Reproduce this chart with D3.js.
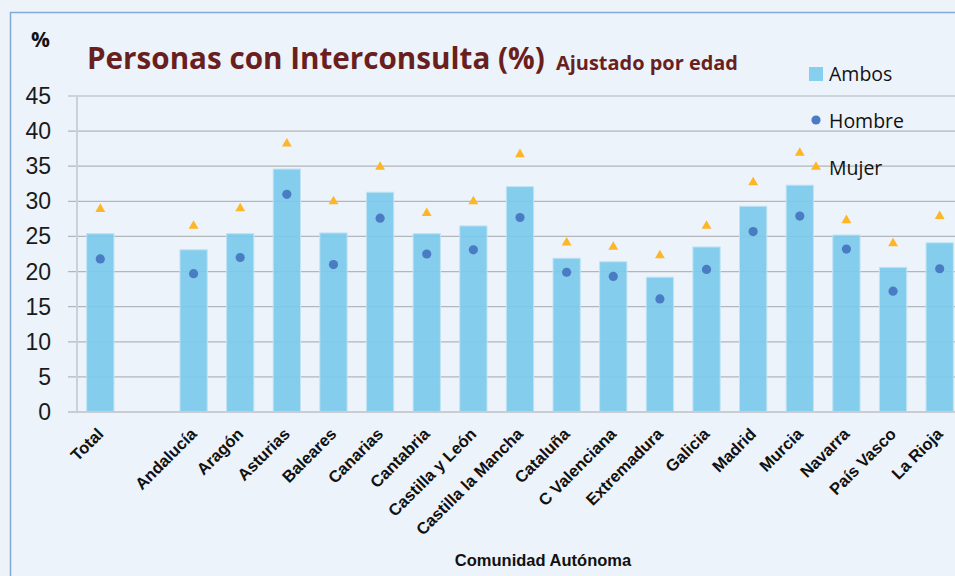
<!DOCTYPE html>
<html>
<head>
<meta charset="utf-8">
<script src="https://cdn.jsdelivr.net/npm/d3@7"></script>
<style>
  body { margin: 0; background: #edf3f9; }
  svg { display: block; }
</style>
</head>
<body>
<div id="chart"></div>
<script>
// Data
var regions = ["Total", "", "Andalucía", "Aragón", "Asturias", "Baleares", "Canarias", "Cantabria",
    "Castilla y León", "Castilla la Mancha", "Cataluña", "C Valenciana", "Extremadura", "Galicia",
    "Madrid", "Murcia", "Navarra", "País Vasco", "La Rioja"];
var ambos  = [25.4, null, 23.1, 25.4, 34.6, 25.5, 31.3, 25.4, 26.5, 32.1, 21.9, 21.4, 19.2, 23.5, 29.3, 32.3, 25.2, 20.6, 24.1];
var hombre = [21.8, null, 19.7, 22.0, 31.0, 21.0, 27.6, 22.5, 23.1, 27.7, 19.9, 19.3, 16.1, 20.3, 25.7, 27.9, 23.2, 17.2, 20.4];
var mujer  = [28.9, null, 26.5, 29.0, 38.2, 30.0, 34.9, 28.3, 30.0, 36.7, 24.1, 23.5, 22.3, 26.5, 32.7, 36.9, 27.3, 24.0, 27.9];
var yTicks = [0, 5, 10, 15, 20, 25, 30, 35, 40, 45];

var svgWidth = 955, svgHeight = 576;
var plot = { left: 77, top: 96, right: 963, bottom: 412 };

var svg = d3.select("#chart").append("svg")
    .attr("width", svgWidth)
    .attr("height", svgHeight);

// chart area frame
svg.append("rect")
    .attr("x", 10.5).attr("y", 12.5)
    .attr("width", 960).attr("height", 580)
    .attr("fill", "#edf3fa")
    .attr("stroke", "#82a9da")
    .attr("stroke-width", 1.5);

var x = d3.scaleBand()
    .domain(regions.map((d, i) => i))
    .range([plot.left, plot.right])
    .paddingInner(0.415)
    .paddingOuter(0.2075);

var y = d3.scaleLinear()
    .domain([0, 45])
    .range([plot.bottom, plot.top]);

// gridlines
svg.append("g")
    .selectAll("line")
    .data(yTicks.filter(d => d > 0))
    .enter().append("line")
    .attr("x1", plot.left - 9).attr("x2", svgWidth)
    .attr("y1", d => y(d)).attr("y2", d => y(d))
    .attr("stroke", "#b3b6ba")
    .attr("stroke-width", 1.2);

// y tick labels
svg.append("g")
    .selectAll("text")
    .data(yTicks)
    .enter().append("text")
    .attr("x", 51)
    .attr("y", d => y(d) + 8)
    .attr("text-anchor", "end")
    .style("font-family", "'Liberation Sans', Arial, sans-serif")
    .style("font-size", "23px")
    .attr("fill", "#1a1a1a")
    .text(d => d);

// bars (Ambos)
svg.append("g")
    .selectAll("rect")
    .data(ambos.map((v, i) => ({ v: v, i: i })).filter(d => d.v != null))
    .enter().append("rect")
    .attr("x", d => x(d.i))
    .attr("y", d => y(d.v))
    .attr("width", x.bandwidth())
    .attr("height", d => y(0) - y(d.v))
    .attr("fill", "#7ccaec")
    .attr("fill-opacity", 0.92)
    .attr("stroke", "#bfe4f5")
    .attr("stroke-width", 1);

// axes lines
svg.append("line")
    .attr("x1", plot.left).attr("x2", plot.left)
    .attr("y1", plot.top).attr("y2", plot.bottom)
    .attr("stroke", "#cdd0d4").attr("stroke-width", 2);
svg.append("line")
    .attr("x1", plot.left - 9).attr("x2", svgWidth)
    .attr("y1", plot.bottom).attr("y2", plot.bottom)
    .attr("stroke", "#c9ccd0").attr("stroke-width", 2);

// Hombre points
svg.append("g")
    .selectAll("circle")
    .data(hombre.map((v, i) => ({ v: v, i: i })).filter(d => d.v != null))
    .enter().append("circle")
    .attr("cx", d => x(d.i) + x.bandwidth() / 2)
    .attr("cy", d => y(d.v))
    .attr("r", 4.6)
    .attr("fill", "#4a7cc3");

// Mujer points
var tri = d3.symbol().type(d3.symbolTriangle).size(42);
svg.append("g")
    .selectAll("path")
    .data(mujer.map((v, i) => ({ v: v, i: i })).filter(d => d.v != null))
    .enter().append("path")
    .attr("d", tri)
    .attr("transform", d => `translate(${x(d.i) + x.bandwidth() / 2},${y(d.v)})`)
    .attr("fill", "#fdb625");

// x labels, rotated
svg.append("g")
    .selectAll("text")
    .data(regions.map((r, i) => ({ r: r, i: i })).filter(d => d.r !== ""))
    .enter().append("text")
    .attr("transform", d => `translate(${x(d.i) + x.bandwidth() / 2},${431}) rotate(-45)`)
    .attr("text-anchor", "end")
    .attr("dy", "0.35em")
    .style("font-family", "'Liberation Sans', Arial, sans-serif")
    .style("font-weight", "bold")
    .style("font-size", "16.5px")
    .attr("fill", "#111")
    .text(d => d.r);

// axis title
svg.append("text")
    .attr("x", 543).attr("y", 566)
    .attr("text-anchor", "middle")
    .style("font-family", "'Liberation Sans', Arial, sans-serif")
    .style("font-weight", "bold")
    .style("font-size", "16.5px")
    .attr("fill", "#111")
    .text("Comunidad Autónoma");

// % unit label
svg.append("text")
    .attr("x", 31).attr("y", 47)
    .style("font-family", "'Open Sans', sans-serif")
    .style("font-weight", "bold")
    .style("font-size", "21px")
    .attr("fill", "#111")
    .text("%");

// title
var title = svg.append("text")
    .attr("x", 87).attr("y", 69)
    .style("font-family", "'Open Sans', sans-serif")
    .style("font-weight", "bold")
    .style("font-size", "30px")
    .attr("fill", "#6a1f1f")
    .text("Personas con Interconsulta (%)");
var tw = title.node().getComputedTextLength();
title.style("font-size", (30 * 458 / tw) + "px");

var sub = svg.append("text")
    .attr("x", 556).attr("y", 70)
    .style("font-family", "'Open Sans', sans-serif")
    .style("font-weight", "bold")
    .style("font-size", "19px")
    .attr("fill", "#6a1f1f")
    .text("Ajustado por edad");
var sw = sub.node().getComputedTextLength();
sub.style("font-size", (19 * 182 / sw) + "px");

// legend
var legendItems = ["Ambos", "Hombre", "Mujer"];
var legendY = [74, 121, 168];
var legend = svg.append("g");
legend.append("rect")
    .attr("x", 809).attr("y", legendY[0] - 7)
    .attr("width", 14).attr("height", 14)
    .attr("fill", "#86cfee");
legend.append("circle")
    .attr("cx", 816).attr("cy", legendY[1] - 1)
    .attr("r", 4.6)
    .attr("fill", "#4a7cc3");
legend.append("path")
    .attr("d", tri)
    .attr("transform", `translate(816,${legendY[2] - 1})`)
    .attr("fill", "#fdb625");
legend.selectAll("text")
    .data(legendItems)
    .enter().append("text")
    .attr("x", 829)
    .attr("y", (d, i) => legendY[i] + 7)
    .style("font-family", "'Open Sans', sans-serif")
    .style("font-size", "19.5px")
    .attr("fill", "#111")
    .text(d => d);
</script>
</body>
</html>
